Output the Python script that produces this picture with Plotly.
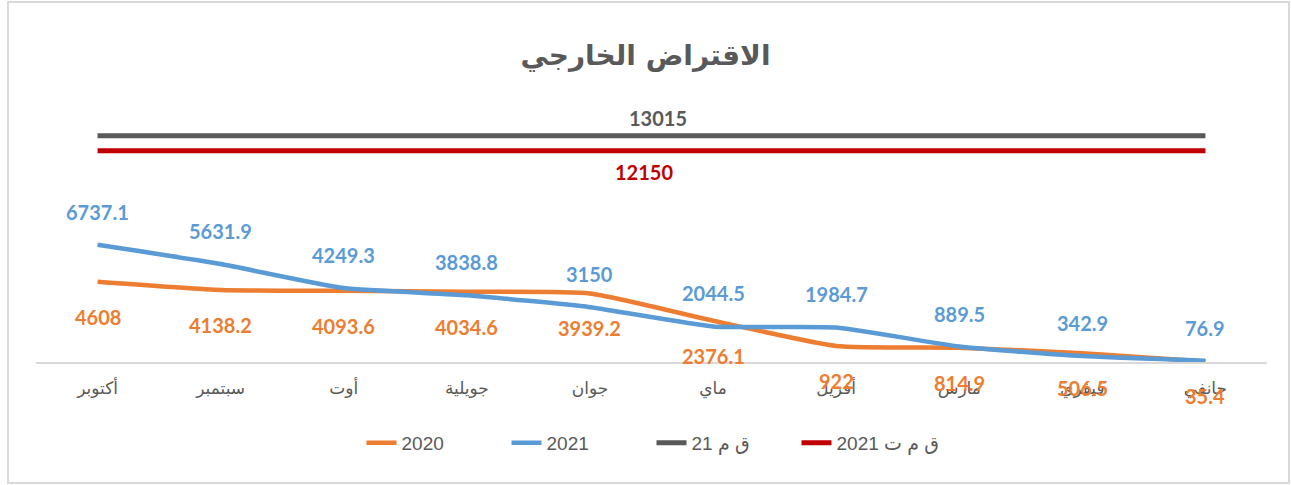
import plotly.graph_objects as go

months = ["جانفي", "فيفري", "مارس", "أفريل", "ماي", "جوان", "جويلية", "أوت", "سبتمبر", "أكتوبر"]
y2020 = [35.4, 506.5, 814.9, 922, 2376.1, 3939.2, 4034.6, 4093.6, 4138.2, 4608]
y2021 = [76.9, 342.9, 889.5, 1984.7, 2044.5, 3150, 3838.8, 4249.3, 5631.9, 6737.1]
qm21 = 13015
qmt2021 = 12150

c2020 = "#ED7D31"
c2021 = "#5B9BD5"
cqm = "#595959"
cqmt = "#C00000"
grey = "#595959"

W, H = 1291, 485
L, R, T, B = 36, 24, 100, 123
pw, ph = W - L - R, H - T - B

fig = go.Figure()
fig.add_trace(go.Scatter(x=months, y=y2020, name="2020", mode="lines",
                         line=dict(color=c2020, width=4.5, shape="spline", smoothing=0.5)))
fig.add_trace(go.Scatter(x=months, y=y2021, name="2021", mode="lines",
                         line=dict(color=c2021, width=4.5, shape="spline", smoothing=0.5)))
fig.add_trace(go.Scatter(x=months, y=[qm21] * len(months), name="ق م 21", mode="lines",
                         line=dict(color=cqm, width=5)))
fig.add_trace(go.Scatter(x=months, y=[qmt2021] * len(months), name="ق م ت 2021", mode="lines",
                         line=dict(color=cqmt, width=5)))

lab_font = "Lato, 'Open Sans', sans-serif"
ann = []
for m, v in zip(months, y2021):
    ann.append(dict(x=m, y=v, text=f"{v:g}", showarrow=False, yshift=33,
                    font=dict(family=lab_font, size=20, color=c2021, weight="bold")))
for m, v in zip(months, y2020):
    ann.append(dict(x=m, y=v, text=f"{v:g}", showarrow=False, yshift=-35,
                    font=dict(family=lab_font, size=20, color=c2020, weight="bold")))
ann.append(dict(x=4.45, y=qm21, text=f"{qm21}", showarrow=False, yshift=18,
                font=dict(family=lab_font, size=20, color=cqm, weight="bold")))
ann.append(dict(x=4.56, y=qmt2021, text=f"{qmt2021}", showarrow=False, yshift=-21,
                font=dict(family=lab_font, size=20, color=cqmt, weight="bold")))

ymax = ph * 57.5

fig.update_layout(
    width=W, height=H,
    margin=dict(l=L, r=R, t=T, b=B),
    paper_bgcolor="white", plot_bgcolor="white",
    title=dict(text="الاقتراض الخارجي", x=0.5, xanchor="center", y=1 - 55 / H, yanchor="middle",
               font=dict(family="DejaVu Sans", size=28, color=grey, weight="bold")),
    xaxis=dict(type="category", categoryorder="array", categoryarray=months,
               range=[9.5, -0.5], showgrid=False, showline=True, linecolor="#D9D9D9",
               linewidth=1.5, ticks="", ticklabelstandoff=10,
               tickfont=dict(family="DejaVu Sans", size=17, color=grey), zeroline=False),
    yaxis=dict(range=[0, ymax], visible=False),
    legend=dict(orientation="h", x=0.5, xanchor="center", y=-(443 - 362) / ph, yanchor="middle",
                font=dict(family="Liberation Sans, DejaVu Sans", size=19, color=grey),
                entrywidth=100, entrywidthmode="pixels", tracegroupgap=0),
    annotations=ann,
    showlegend=True,
)

# outer border
fig.add_shape(type="rect", xref="paper", yref="paper",
              x0=(8 - L) / pw, x1=(1289 - L) / pw,
              y0=((H - B) - 483) / ph, y1=((H - B) - 2) / ph,
              line=dict(color="#D9D9D9", width=2), fillcolor="rgba(0,0,0,0)", layer="below")

fig.write_html("out.html", config={"displayModeBar": False},
               post_script="document.body.style.margin='0';document.body.style.overflow='hidden';")
